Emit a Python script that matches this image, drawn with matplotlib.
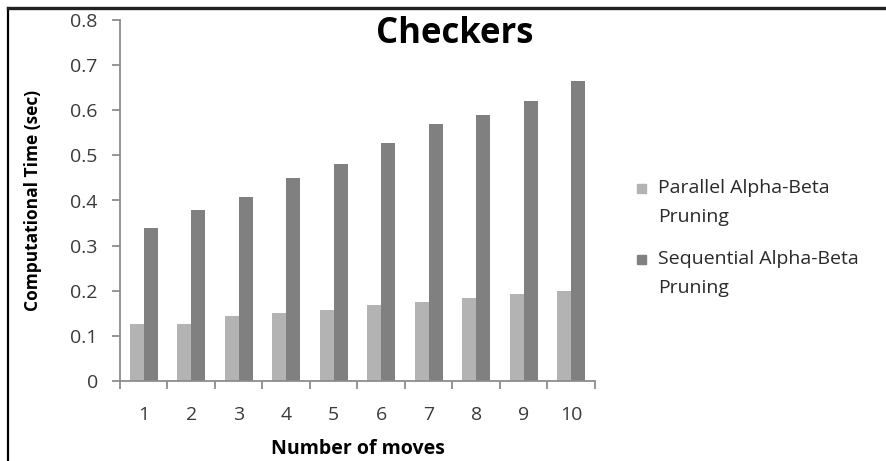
import matplotlib
matplotlib.use("Agg")
import matplotlib.pyplot as plt
from matplotlib.lines import Line2D
from matplotlib.patches import Rectangle
import numpy as np

plt.rcParams['font.family'] = ['Open Sans', 'DejaVu Sans']

moves = [1, 2, 3, 4, 5, 6, 7, 8, 9, 10]
parallel = [0.127, 0.127, 0.145, 0.15, 0.157, 0.168, 0.176, 0.184, 0.192, 0.2]
sequential = [0.339, 0.378, 0.408, 0.449, 0.48, 0.528, 0.57, 0.59, 0.62, 0.665]
series_labels = ["Parallel Alpha-Beta\nPruning", "Sequential Alpha-Beta\nPruning"]
colors = ["#b3b3b3", "#808080"]
yticks = [0, 0.1, 0.2, 0.3, 0.4, 0.5, 0.6, 0.7, 0.8]

fig = plt.figure(figsize=(8.87, 4.61), dpi=100)
ax = fig.add_axes([120/887, 80/461, 475/887, 361/461])

x = np.array(moves)
w = 0.29
ax.bar(x - w/2, parallel, w, color=colors[0], edgecolor='none')
ax.bar(x + w/2, sequential, w, color=colors[1], edgecolor='none')

ax.set_xlim(0.5, 10.5)
ax.set_ylim(0, 0.8)
ax.set_yticks(yticks)
ax.set_yticklabels([("%g" % v) for v in yticks])
ax.set_xticks(moves)
ax.set_xticks(np.arange(0.5, 11, 1), minor=True)

for s in ['top', 'right']:
    ax.spines[s].set_visible(False)
for s in ['left', 'bottom']:
    ax.spines[s].set_color('#8c8c8c')
    ax.spines[s].set_linewidth(1.3)

ax.tick_params(axis='y', direction='out', length=6, width=1.3, color='#8c8c8c',
               labelsize=14, labelcolor='#3a3a3a', pad=10)
ax.tick_params(axis='x', which='major', length=0, labelsize=14,
               labelcolor='#3a3a3a', pad=18)
ax.tick_params(axis='x', which='minor', direction='out', length=6, width=1.3,
               color='#8c8c8c')

ax.set_ylabel("Computational Time (sec)", fontsize=12.5, fontweight='bold',
              labelpad=20)
ax.set_xlabel("Number of moves", fontsize=14, fontweight='bold', labelpad=11)

fig.text(455/887, 1 - 34/461, "Checkers", fontsize=25, fontweight='bold',
         ha='center', va='center')

# legend entries: square next to the first line, wrapped text below
entry_y = [188, 259]
line_gap = 29
for yy, lab, c in zip(entry_y, series_labels, colors):
    fig.add_artist(Rectangle((637/887, 1 - (yy + 5)/461), 9/887, 9/461,
                             transform=fig.transFigure, color=c))
    for k, part in enumerate(lab.split("\n")):
        fig.text(658/887, 1 - (yy + k * line_gap)/461, part, fontsize=14,
                 color='#2a2a2a', ha='left', va='center')

# outer frame
fig.add_artist(Line2D([8.5/887, 8.5/887], [0, 1 - 8/461], transform=fig.transFigure,
                      color='black', linewidth=1.6))
fig.add_artist(Line2D([8/887, 1], [1 - 8/461, 1 - 8/461], transform=fig.transFigure,
                      color='#222222', linewidth=2.4))

fig.savefig("out.png", dpi=100)
